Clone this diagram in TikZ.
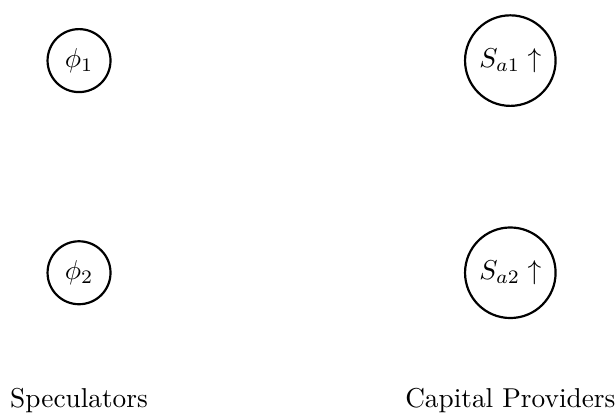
\documentclass[tikz,border=0pt]{standalone}
\usepackage{tikz}
\usetikzlibrary{positioning}

\begin{document}
\begin{tikzpicture}[agent/.style={draw, circle, thick}]
\useasboundingbox (-1.017,0.78) rectangle (6.91,-4.57);

\node (phi1) at (0,0) [agent] {$\phi_1$};
\node (phi2) at (0,-2.73) [agent] {$\phi_2$};

\node (sa1) at (5.55,0) [agent] {$S_{a1} \uparrow$};
\node (sa2) at (5.55,-2.73) [agent] {$S_{a2} \uparrow$};

\node (spec) at (0,-4.38) {Speculators};
\node (cap) at (5.55,-4.38) {Capital Providers};
\end{tikzpicture}
\end{document}
